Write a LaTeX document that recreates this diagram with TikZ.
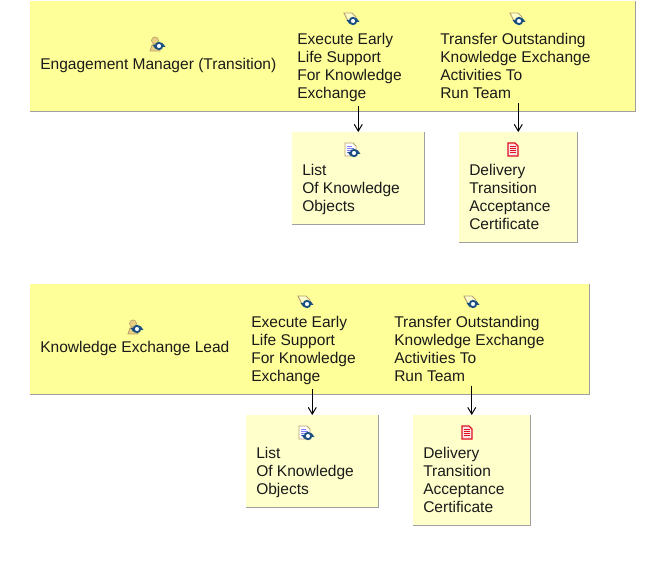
\documentclass[tikz,border=0pt]{standalone}
\usepackage{fontspec}
\setmainfont{Liberation Sans}
\usetikzlibrary{arrows.meta}
\definecolor{bandfill}{HTML}{FFFF99}
\definecolor{boxfill}{HTML}{FFFFCC}
\definecolor{edgegray}{HTML}{A0A0A0}
\definecolor{inkc}{HTML}{1A1A1A}
\definecolor{syncblue}{HTML}{1A4F80}
\definecolor{docred}{HTML}{E01020}
\definecolor{iconbrown}{HTML}{B8A070}
\definecolor{persontan}{HTML}{E8D080}
\tikzset{
  band/.style={fill=bandfill,draw=none,minimum height=110*0.75pt,inner sep=0,anchor=north west},
  delivbox/.style={fill=boxfill,draw=none,inner sep=0,anchor=north west},
  lbl/.style={inner sep=0,anchor=north west,align=left,text=inkc,font=\fontsize{11.65}{13.5}\selectfont},
  shadowline/.style={draw=edgegray,line width=0.75pt},
  flow/.style={draw=black,line width=0.75pt,shorten <=3pt,-{Straight Barb[length=5pt,width=6pt]}},
  syncmark/.pic={
    \fill[white] (0,0) circle[radius=3.5];
    \draw[syncblue,line width=1.4pt] (0,0) circle[radius=3.2];
    \fill[syncblue] (-6.5,-1) -- (-2,-1) -- (-3.5,3) -- cycle;
    \fill[syncblue] (6.5,1) -- (2,1) -- (3.5,-3) -- cycle;
  },
  taskicon/.pic={
    \draw[fill=boxfill,draw=iconbrown,line width=0.7pt] (-7,-6) -- (1,-6) -- (5,-2) -- (5,2) -- (-3,2) -- cycle;
    \pic at (2,2) {syncmark};
  },
  docicon/.pic={
    \draw[fill=white,draw=iconbrown,line width=0.7pt] (-7,-7) -- (1,-7) -- (4,-4) -- (4,6) -- (-7,6) -- cycle;
    \draw[blue!50,line width=0.6pt] (-5,-4) -- (0,-4) (-5,-2) -- (2,-2) (-5,0) -- (0,0) (-5,2) -- (-2,2);
    \pic at (2,3) {syncmark};
  },
  redicon/.pic={
    \draw[fill=docred!12,draw=docred,line width=1pt] (-5,-7) -- (2,-7) -- (5,-4) -- (5,6) -- (-5,6) -- cycle;
    \draw[docred,line width=0.8pt] (-3,-3.5) -- (3,-3.5) (-3,-1.5) -- (3,-1.5) (-3,0.5) -- (3,0.5) (-3,2.5) -- (3,2.5);
  },
  personicon/.pic={
    \draw[fill=persontan,draw=iconbrown,line width=0.5pt] (-2,-3.5) circle[radius=3.5];
    \draw[fill=persontan,draw=iconbrown,line width=0.6pt] (-7,7) -- (-5,1) -- (1,0) -- (3,7) -- cycle;
    \pic at (2,2) {syncmark};
  }
}
\begin{document}
\begin{tikzpicture}[x=0.75pt,y=-0.75pt]
\useasboundingbox (0,0) rectangle (657,584);
\fill[white] (0,0) rectangle (657,584);
% upper group
\node[band,minimum width=605*0.75pt] (bandA) at (30,1) {};
\draw[shadowline] (bandA.south west) -- (bandA.south east) -- (bandA.north east);
\node[delivbox,minimum width=132*0.75pt,minimum height=92*0.75pt] (listA) at (292,132) {};
\draw[shadowline] (listA.south west) -- (listA.south east) -- (listA.north east);
\node[delivbox,minimum width=118*0.75pt,minimum height=110*0.75pt] (certA) at (459,132) {};
\draw[shadowline] (certA.south west) -- (certA.south east) -- (certA.north east);
\pic at (157,44) {personicon};
\pic at (351,19) {taskicon};
\pic at (517,19) {taskicon};
\pic at (352,150) {docicon};
\pic at (513,150) {redicon};
\node[lbl] (roleA) at (40,58) {Engagement Manager (Transition)};
\node[lbl] (earlyA) at (297,33) {Execute Early\\Life Support\\For Knowledge\\Exchange};
\node[lbl] (xferA) at (440,33) {Transfer Outstanding\\Knowledge Exchange\\Activities To\\Run Team};
\node[lbl] (listAt) at (302,164) {List\\Of Knowledge\\Objects};
\node[lbl] (certAt) at (469,164) {Delivery\\Transition\\Acceptance\\Certificate};
\draw[flow] (listA.north |- earlyA.south) -- (listA.north);
\draw[flow] (certA.north |- xferA.south) -- (certA.north);
% lower group
\node[band,minimum width=559*0.75pt] (bandB) at (30,284) {};
\draw[shadowline] (bandB.south west) -- (bandB.south east) -- (bandB.north east);
\node[delivbox,minimum width=132*0.75pt,minimum height=92*0.75pt] (listB) at (246,415) {};
\draw[shadowline] (listB.south west) -- (listB.south east) -- (listB.north east);
\node[delivbox,minimum width=117*0.75pt,minimum height=110*0.75pt] (certB) at (413,415) {};
\draw[shadowline] (certB.south west) -- (certB.south east) -- (certB.north east);
\pic at (135,327) {personicon};
\pic at (305,302) {taskicon};
\pic at (471,302) {taskicon};
\pic at (306,433) {docicon};
\pic at (467,433) {redicon};
\node[lbl] (roleB) at (40,341) {Knowledge Exchange Lead};
\node[lbl] (earlyB) at (251,316) {Execute Early\\Life Support\\For Knowledge\\Exchange};
\node[lbl] (xferB) at (394,316) {Transfer Outstanding\\Knowledge Exchange\\Activities To\\Run Team};
\node[lbl] (listBt) at (256,447) {List\\Of Knowledge\\Objects};
\node[lbl] (certBt) at (423,447) {Delivery\\Transition\\Acceptance\\Certificate};
\draw[flow] (listB.north |- earlyB.south) -- (listB.north);
\draw[flow] (certB.north |- xferB.south) -- (certB.north);
\end{tikzpicture}
\end{document}
